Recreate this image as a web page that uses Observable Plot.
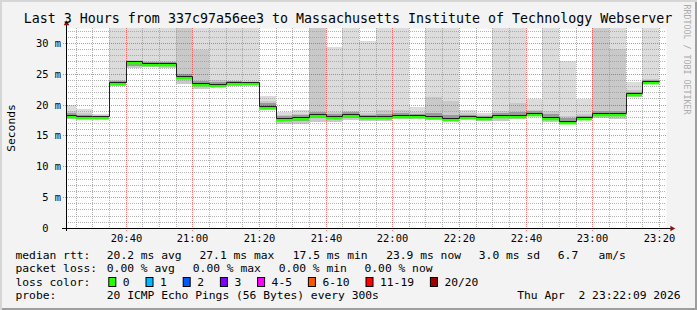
<!DOCTYPE html>
<html><head><meta charset="utf-8">
<script src="https://cdn.jsdelivr.net/npm/d3@7"></script>
<script src="https://cdn.jsdelivr.net/npm/@observablehq/plot@0.6"></script>
<style>
body{margin:0;background:#fff}
#wrap{position:relative;width:697px;height:310px;background:#f3f3f3;box-shadow:inset 2px 2px 0 #d6d6d6, inset -2px -2px 0 #9e9e9e;overflow:hidden}
</style></head><body><div id="wrap"></div>
<script>
// ---- data (5-minute intervals, start times) ----
const startTimes = ["20:20","20:25","20:30","20:35","20:40","20:45","20:50","20:55","21:00","21:05","21:10","21:15",
  "21:20","21:25","21:30","21:35","21:40","21:45","21:50","21:55","22:00","22:05","22:10","22:15",
  "22:20","22:25","22:30","22:35","22:40","22:45","22:50","22:55","23:00","23:05","23:10","23:15"];
// median rtt (ms)
const median = [18.3,18.1,18.1,23.7,27.0,26.7,26.8,24.7,23.5,23.3,23.6,23.6,
  19.8,17.9,18.0,18.5,18.2,18.5,18.1,18.1,18.4,18.3,18.1,17.9,
  18.2,18.0,18.4,18.4,18.7,18.0,17.4,18.0,18.7,18.7,21.9,23.8];
// outer smoke (max / min ping, ms)
const smokeHi = [20.0,19.3,18.5,33,33,33,33,33,33,33,33,33,
  21.4,18.8,19.1,33,29.4,33,30.3,33,33,19.6,33,33,
  19.1,18.7,33,33,20.9,33,27.1,20.9,33,33,23.6,33];
const smokeLo = [17.7,17.7,17.8,23.0,25.9,26.1,26.0,23.3,22.6,22.9,23.1,23.2,
  19.2,16.9,16.8,17.2,17.2,17.5,17.3,17.4,17.6,17.6,17.5,17.4,
  17.8,17.3,17.4,17.6,18.1,17.2,17.0,17.5,17.8,17.6,21.3,23.3];
// middle smoke top (ms)
const smokeMid = [18.9,18.6,18.3,24.0,27.3,27.0,27.1,33,28.8,24.0,23.9,23.9,
  20.6,18.4,18.5,33,18.8,19.0,18.6,19.2,19.2,18.8,21.3,20.6,
  18.7,18.4,18.9,20.2,19.1,19.0,18.2,18.5,33,29.1,22.3,24.2];
// dense smoke around median (ms)
const innerHi = [18.6,18.3,18.2,23.9,27.1,26.9,26.9,24.9,23.8,23.7,23.8,23.7,
  20.2,18.2,18.3,18.8,18.5,18.8,18.4,18.5,18.7,18.5,18.6,18.4,
  18.4,18.2,18.6,18.8,18.9,18.5,17.8,18.2,19.0,19.0,22.1,24.0];
const innerLo = [17.9,17.9,17.9,23.3,26.2,26.2,26.2,24.2,23.0,23.0,23.3,23.4,
  19.5,17.3,17.4,17.8,17.7,17.9,17.6,17.6,17.9,17.9,17.8,17.6,
  18.0,17.5,17.8,18.1,18.4,17.5,17.1,17.7,18.3,18.2,21.6,23.5];

const yTicks = [0,5,10,15,20,25,30];
const xTickLabels = ["20:40","21:00","21:20","21:40","22:00","22:20","22:40","23:00","23:20"];
const windowStart = "20:22:09", windowEnd = "23:22:09";
const yMax = 32.43;

const title = "Last 3 Hours from 337c97a56ee3 to Massachusetts Institute of Technology Webserver";
const yLabel = "Seconds";
const credit = "RRDTOOL / TOBI OETIKER";
const rttRow = ["median rtt:","20.2 ms avg","27.1 ms max","17.5 ms min","23.9 ms now","3.0 ms sd","6.7   am/s"];
const lossRow = ["packet loss:","0.00 % avg","0.00 % max","0.00 % min","0.00 % now"];
const lossColorTitle = "loss color:";
const lossLabels = ["0","1","2","3","4-5","6-10","11-19","20/20"];
const lossColors = ["#26ff00","#00b8ff","#0059ff","#7e00ff","#ff00ff","#ff5500","#ff0000","#a10000"];
const probeRow = ["probe:","20 ICMP Echo Pings (56 Bytes) every 300s"];
const stamp = "Thu Apr  2 23:22:09 2026";

// ---- layout ----
const rttX = [16,107.3,200,293.3,386.7,479.3,558.3];
const lossX = [16,107.3,193.3,279.3,365];
const rowBase = [258.6,272,285.8,299.3];

const t = s => { const [h,m,sec=0] = s.split(":").map(Number); return new Date(Date.UTC(2026,3,2,h,m,sec)); };
const data = startTimes.map((s,i) => ({
  start: t(s), end: new Date(+t(s) + 300000),
  median: median[i], hi: smokeHi[i], lo: smokeLo[i], mid: smokeMid[i], iHi: innerHi[i], iLo: innerLo[i]
}));
const linePts = data.map(d => ({x: d.start, y: d.median})).concat([{x: data[data.length-1].end, y: data[data.length-1].median}]);
const x0 = t(windowStart), x1 = t(windowEnd);
const xMajor = xTickLabels.map(s => t(s));
const xMinor = d3.utcMinute.every(5).range(x0, x1).filter(d => d.getUTCMinutes() % 20 !== 0);
const yMinor = d3.range(1, 33).filter(v => v % 5 !== 0 && v < yMax);
const yMajor = yTicks.filter(v => v > 0);
const mono = '"DejaVu Sans Mono", monospace';

const chart = Plot.plot({
  width: 697, height: 310,
  marginLeft: 66, marginRight: 31, marginTop: 28, marginBottom: 82,
  x: {type: "utc", domain: [x0, x1], round: true},
  y: {domain: [0, yMax], round: true},
  style: {background: "transparent", fontFamily: mono, fontSize: "10.4px", color: "#000"},
  marks: [
    Plot.frame({fill: "white", stroke: null}),
    Plot.rect(data, {x1: "start", x2: "end", y1: "lo", y2: "hi", fill: "#dcdcdc", clip: true}),
    Plot.rect(data, {x1: "start", x2: "end", y1: "lo", y2: "mid", fill: "#c9c9c9", clip: true}),
    Plot.rect(data, {x1: "start", x2: "end", y1: "iLo", y2: "iHi", fill: "#9a9a9a", clip: true}),
    Plot.ruleY(yMinor, {stroke: "#9a9a9a", strokeOpacity: 0.75, strokeDasharray: "1,1"}),
    Plot.ruleX(xMinor, {stroke: "#9a9a9a", strokeOpacity: 0.75, strokeDasharray: "1,1", insetBottom: -2}),
    Plot.ruleY(yMajor, {stroke: "#ff0000", strokeOpacity: 0.5, strokeDasharray: "1,1", insetLeft: -3}),
    Plot.ruleX(xMajor, {stroke: "#ff0000", strokeOpacity: 0.5, strokeDasharray: "1,1", insetBottom: -3}),
    Plot.ruleY(data, {y: "median", x1: "start", x2: "end", stroke: lossColors[0], strokeWidth: 2.4, dy: 1.7, clip: true}),
    Plot.line(linePts, {x: "x", y: "y", curve: "step-after", stroke: "#202020", strokeWidth: 1, clip: true}),
    Plot.ruleY([0], {stroke: "#000", insetLeft: -4, insetRight: -5}),
    Plot.ruleX([x0], {stroke: "#000", insetTop: -6, insetBottom: -3}),
    Plot.dot([x1], {x: d => d, y: () => 0, symbol: "triangle", rotate: 90, r: 2.1, fill: "#8b1010", stroke: null, dx: 5.5}),
    Plot.dot([x0], {x: d => d, y: () => yMax, symbol: "triangle", r: 2.1, fill: "#8b1010", stroke: null, dy: -5}),
    Plot.axisY(yTicks, {tickFormat: d => d === 0 ? "0\u00a0\u00a0" : d + "\u00a0m", tickSize: 0, tickPadding: 5.5, fontSize: 10.4, fill: "#000"}),
    Plot.axisX(xMajor, {tickFormat: d3.utcFormat("%H:%M"), tickSize: 0, tickPadding: 6, fontSize: 10.4, fill: "#000"})
  ]
});
chart.style.position = "absolute"; chart.style.left = "0"; chart.style.top = "0";
const wrap = document.getElementById("wrap");
wrap.appendChild(chart);

const svg = d3.select(wrap).append("svg").attr("width", 697).attr("height", 310)
  .style("position", "absolute").style("left", 0).style("top", 0)
  .style("font-family", mono).attr("xml:space", "preserve");

svg.append("text").attr("x", 348).attr("y", 23.4).attr("text-anchor", "middle")
  .attr("font-size", 13.3).attr("fill", "#000").text(title);
svg.append("text").attr("transform", "translate(14.8,128) rotate(-90)").attr("text-anchor", "middle")
  .attr("font-size", 11.3).attr("fill", "#000").text(yLabel);
svg.append("text").attr("transform", "translate(684,4.5) rotate(90)").attr("font-size", 8.3)
  .attr("fill", "#ababab").text(credit);

const leg = (x, y, s) => svg.append("text").attr("x", x - 0.5).attr("y", y).attr("font-size", 11.3)
  .attr("fill", "#000").style("white-space", "pre").text(s);
rttRow.forEach((s, i) => leg(rttX[i], rowBase[0], s));
lossRow.forEach((s, i) => leg(lossX[i], rowBase[1], s));
leg(16, rowBase[2], lossColorTitle);
let bx = 108.3;
const cw = 6.8;
lossLabels.forEach((s, i) => {
  svg.append("rect").attr("x", bx + 0.5).attr("y", 277.5).attr("width", 7).attr("height", 9)
    .attr("fill", lossColors[i]).attr("stroke", "#000").attr("stroke-width", 1);
  leg(bx + 15, rowBase[2], s);
  bx = bx + 15 + s.length * cw + 15.4;
});
leg(16, rowBase[3], probeRow[0]);
leg(107.3, rowBase[3], probeRow[1]);
svg.append("text").attr("x", 680.5).attr("y", rowBase[3]).attr("text-anchor", "end").attr("font-size", 11.3)
  .attr("fill", "#000").style("white-space", "pre").text(stamp);
</script></body></html>
